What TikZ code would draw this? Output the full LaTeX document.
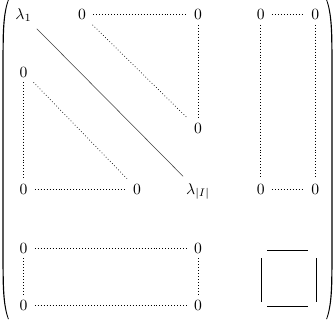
\documentclass[tikz,border=0pt]{standalone}
\begin{document}
\begin{tikzpicture}[x=0.64pt,y=-0.64pt,
  ent/.style={inner xsep=4.5pt,inner ysep=3.2pt,anchor=base},
  lam/.style={ent,inner xsep=5.5pt,inner ysep=4.2pt},
  dots/.style={line width=0.45pt,dash pattern=on 0.45pt off 1.45pt},
  diag/.style={line width=0.35pt,black!75},
  boxline/.style={line width=0.5pt},
  paren/.style={fill=black,draw=none}]
\useasboundingbox (0,0) rectangle (335,319);
% parentheses
\fill[paren] (8,0) .. controls (4,10) and (2.5,25) .. (2.5,50) -- (2.5,269)
  .. controls (2.5,294) and (4,309) .. (8,319) -- (8.8,319)
  .. controls (5.1,309) and (3.7,294) .. (3.7,269) -- (3.7,50)
  .. controls (3.7,25) and (5.1,10) .. (8.8,0) -- cycle;
\fill[paren] (327,0) .. controls (331,10) and (332.5,25) .. (332.5,50) -- (332.5,269)
  .. controls (332.5,294) and (331,309) .. (327,319) -- (326.2,319)
  .. controls (329.9,309) and (331.3,294) .. (331.3,269) -- (331.3,50)
  .. controls (331.3,25) and (329.9,10) .. (326.2,0) -- cycle;
% entries
\node[lam] (L1)  at (23.5,19.5) {$\lambda_1$};
\node[ent] (a12) at (82,19.5) {$0$};
\node[ent] (a14) at (198,19.5) {$0$};
\node[ent] (r1)  at (260.7,19.5) {$0$};
\node[ent] (r2)  at (315.3,19.5) {$0$};
\node[ent] (a21) at (23.5,77) {$0$};
\node[ent] (a34) at (198,133.5) {$0$};
\node[ent] (a41) at (23.5,194) {$0$};
\node[ent] (a43) at (137,194) {$0$};
\node[lam] (Ln)  at (198,194) {$\lambda_{|I|}$};
\node[ent] (r3)  at (260.7,194) {$0$};
\node[ent] (r4)  at (315.3,194) {$0$};
\node[ent] (b1)  at (23.5,253) {$0$};
\node[ent] (b2)  at (198,253) {$0$};
\node[ent] (b3)  at (23.5,310) {$0$};
\node[ent] (b4)  at (198,310) {$0$};
% connectors
\draw[diag] (L1) -- (Ln);
\draw[dots] (a12) -- (a14);
\draw[dots] (a12) -- (a34);
\draw[dots] (a14) -- (a34);
\draw[dots] (a21) -- (a43);
\draw[dots] (a21) -- (a41);
\draw[dots] (a41) -- (a43);
\draw[dots] (r1) -- (r2);
\draw[dots] (r3) -- (r4);
\draw[dots] (r1) -- (r3);
\draw[dots] (r2) -- (r4);
\draw[dots] (b1) -- (b2);
\draw[dots] (b3) -- (b4);
\draw[dots] (b1) -- (b3);
\draw[dots] (b2) -- (b4);
% box symbol
\draw[boxline] (267,250) -- (308,250);
\draw[boxline] (267,306) -- (308,306);
\draw[boxline] (261,258) -- (261,302);
\draw[boxline] (316,258) -- (316,302);
\end{tikzpicture}
\end{document}
